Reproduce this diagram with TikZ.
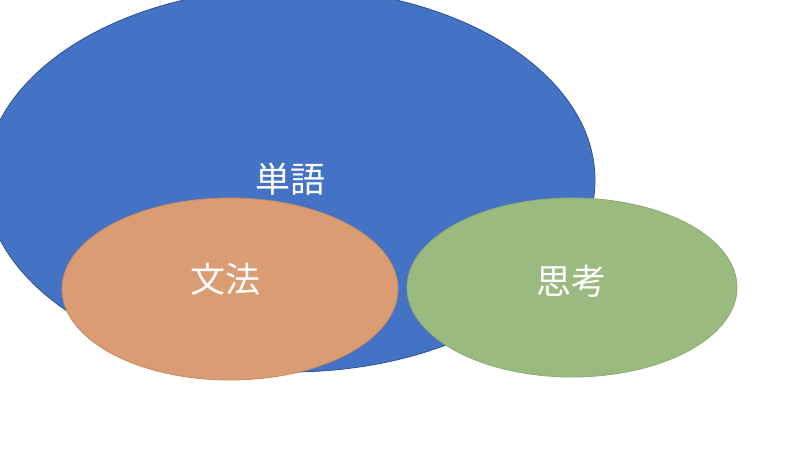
\documentclass[tikz,border=0pt]{standalone}
\usepackage{fontspec}
\newfontfamily\jpfont{Noto Sans CJK JP}
\usetikzlibrary{shapes.geometric}
\definecolor{blueFill}{HTML}{4472C4}
\definecolor{blueLine}{HTML}{2F528F}
\definecolor{orangeFill}{HTML}{DA9C73}
\definecolor{orangeLine}{HTML}{C88A5F}
\definecolor{greenFill}{HTML}{9BBA80}
\definecolor{greenLine}{HTML}{8DAC72}
\tikzset{
  blob/.style={ellipse, inner sep=0pt, outer sep=0pt, line width=0.8pt},
  label/.style={text=white, font=\jpfont\fontsize{35}{40}\selectfont, inner sep=0pt}
}
\begin{document}
\begin{tikzpicture}[x=1pt,y=-1pt]
\useasboundingbox (0,0) rectangle (800,450);
\clip (0,0) rectangle (800,450);
\fill[white] (0,0) rectangle (800,450);
\node[blob, fill=blueFill, draw=blueLine, minimum width=610pt, minimum height=384pt] (vocab) at (290,180) {};
\node[label] (vocabT) at (290,179) {単語};
\node[blob, fill=orangeFill, draw=orangeLine, minimum width=336pt, minimum height=182pt] (grammar) at (230,289) {};
\node[label] (grammarT) at (225,279) {文法};
\node[blob, fill=greenFill, draw=greenLine, minimum width=330pt, minimum height=179pt] (thought) at (572,287.5) {};
\node[label] (thoughtT) at (571,281) {思考};
\end{tikzpicture}
\end{document}
